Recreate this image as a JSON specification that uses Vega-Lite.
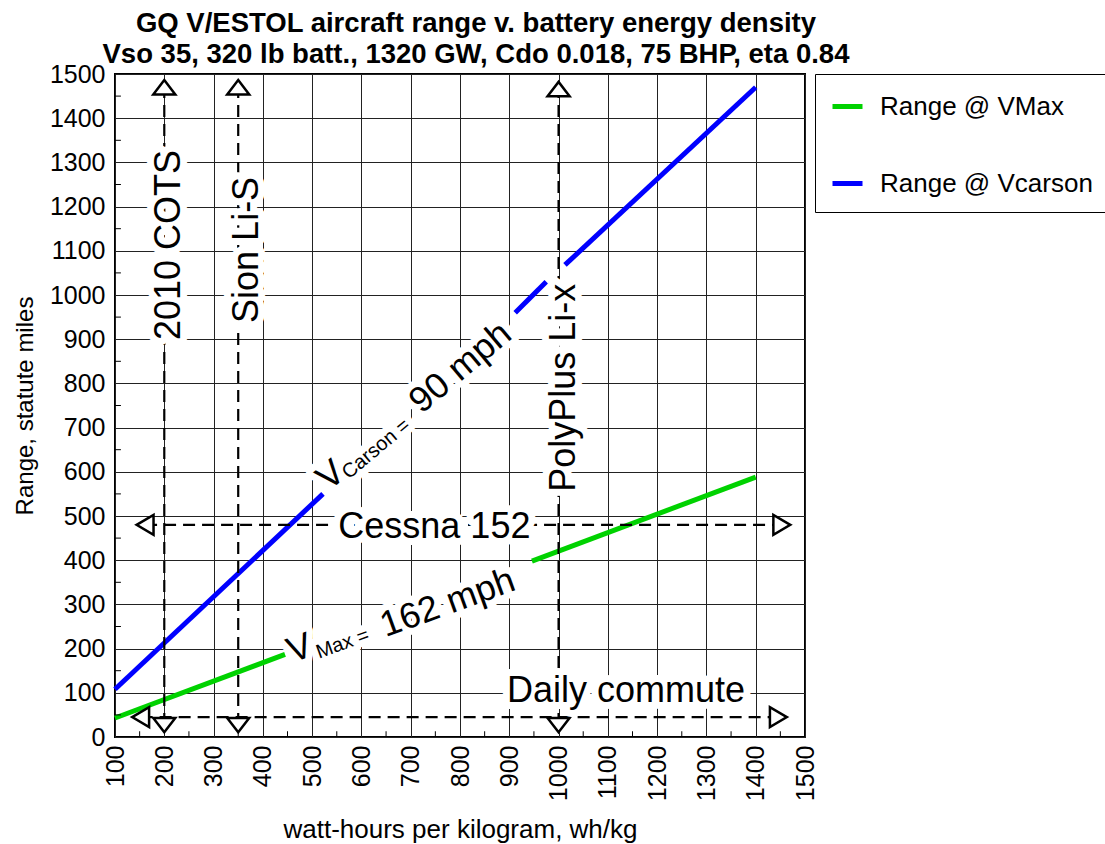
{
  "$schema": "https://vega.github.io/schema/vega-lite/v6.json",
  "autosize": "none",
  "padding": {"left": 115, "top": 74, "right": 300, "bottom": 107},
  "width": 690,
  "height": 663,
  "background": "white",
  "config": {
    "font": "Liberation Sans",
    "view": {"stroke": "black", "strokeWidth": 2},
    "axis": {"labelColor": "black", "titleColor": "black", "titleFontWeight": "normal"}
  },
  "title": {
    "text": ["GQ V/ESTOL aircraft range v. battery energy density", "Vso 35, 320 lb batt., 1320 GW, Cdo 0.018, 75 BHP, eta 0.84"],
    "fontSize": 27.5,
    "fontWeight": "bold",
    "lineHeight": 31,
    "anchor": "middle",
    "dx": 16,
    "offset": -6,
    "color": "black"
  },
  "datasets": {
    "lines": [
      {"x": 100, "y": 43, "series": "Range @ VMax", "seg": "m1"},
      {"x": 445, "y": 187, "series": "Range @ VMax", "seg": "m1"},
      {"x": 946, "y": 398, "series": "Range @ VMax", "seg": "m2"},
      {"x": 1400, "y": 588, "series": "Range @ VMax", "seg": "m2"},
      {"x": 100, "y": 108, "series": "Range @ Vcarson", "seg": "c1"},
      {"x": 522, "y": 550, "series": "Range @ Vcarson", "seg": "c1"},
      {"x": 912, "y": 960, "series": "Range @ Vcarson", "seg": "c2"},
      {"x": 975, "y": 1030, "series": "Range @ Vcarson", "seg": "c2"},
      {"x": 1013, "y": 1068, "series": "Range @ Vcarson", "seg": "c3"},
      {"x": 1400, "y": 1470, "series": "Range @ Vcarson", "seg": "c3"}
    ],
    "rules": [
      {"x": 200, "x2": 200, "y": 27, "y2": 1470},
      {"x": 350, "x2": 350, "y": 27, "y2": 1470},
      {"x": 1000, "x2": 1000, "y": 27, "y2": 1466},
      {"x": 152, "x2": 1446, "y": 45, "y2": 45},
      {"x": 161, "x2": 1453, "y": 480, "y2": 480}
    ],
    "arrows": [
      {"x": 200, "y": 1470, "dir": "up"},
      {"x": 350, "y": 1470, "dir": "up"},
      {"x": 1000, "y": 1466, "dir": "up"},
      {"x": 200, "y": 27, "dir": "down"},
      {"x": 350, "y": 27, "dir": "down"},
      {"x": 1000, "y": 27, "dir": "down"},
      {"x": 152, "y": 45, "dir": "left"},
      {"x": 1446, "y": 45, "dir": "right"},
      {"x": 161, "y": 480, "dir": "left"},
      {"x": 1453, "y": 480, "dir": "right"}
    ],
    "minorX": [
      {"v": 150}, {"v": 250}, {"v": 350}, {"v": 450}, {"v": 550}, {"v": 650}, {"v": 750},
      {"v": 850}, {"v": 950}, {"v": 1050}, {"v": 1150}, {"v": 1250}, {"v": 1350}, {"v": 1450}
    ],
    "minorY": [
      {"v": 50}, {"v": 150}, {"v": 250}, {"v": 350}, {"v": 450}, {"v": 550}, {"v": 650}, {"v": 750},
      {"v": 850}, {"v": 950}, {"v": 1050}, {"v": 1150}, {"v": 1250}, {"v": 1350}, {"v": 1450}
    ],
    "labels": [
      {"text": "2010 COTS", "x": 210, "y": 1113, "group": "vert"},
      {"text": "Sion Li-S", "x": 367, "y": 1102, "group": "vert"},
      {"text": "PolyPlus Li-x", "x": 1012, "y": 790, "group": "vert"},
      {"text": "Cessna 152", "x": 748, "y": 475, "group": "horiz"},
      {"text": "Daily commute", "x": 1137, "y": 103, "group": "horiz"},
      {"text": "V", "x": 538, "y": 592, "group": "carsonBig"},
      {"text": "90 mph", "x": 801, "y": 836, "group": "carsonBig"},
      {"text": "Carson =", "x": 630, "y": 652, "group": "carsonSmall"},
      {"text": "V", "x": 475, "y": 200, "group": "maxBig"},
      {"text": "162 mph", "x": 775, "y": 303, "group": "maxBig"},
      {"text": "Max =", "x": 562, "y": 211, "group": "maxSmall"}
    ]
  },
  "layer": [
    {
      "data": {"name": "lines"},
      "mark": {"type": "line", "strokeWidth": 5, "strokeCap": "butt"},
      "encoding": {
        "x": {
          "field": "x", "type": "quantitative",
          "scale": {"domain": [100, 1500], "nice": false, "zero": false},
          "axis": {
            "orient": "bottom",
            "values": [100, 200, 300, 400, 500, 600, 700, 800, 900, 1000, 1100, 1200, 1300, 1400, 1500],
            "format": "d",
            "grid": true, "gridColor": "#222", "gridWidth": 1, "gridOpacity": 1,
            "ticks": false, "tickSize": 0, "domain": false,
            "labelAngle": -90, "labelAlign": "right", "labelBaseline": "middle",
            "labelFontSize": 25, "labelPadding": 8, "labelFlush": false, "labelOverlap": false,
            "title": "watt-hours per kilogram, wh/kg", "titleFontSize": 26, "titlePadding": 16
          }
        },
        "y": {
          "field": "y", "type": "quantitative",
          "scale": {"domain": [0, 1500], "nice": false},
          "axis": {
            "orient": "left",
            "values": [0, 100, 200, 300, 400, 500, 600, 700, 800, 900, 1000, 1100, 1200, 1300, 1400, 1500],
            "format": "d",
            "grid": true, "gridColor": "#222", "gridWidth": 1, "gridOpacity": 1,
            "ticks": false, "tickSize": 0, "domain": false,
            "labelFontSize": 25, "labelPadding": 10, "labelFlush": false, "labelOverlap": false,
            "title": "Range, statute miles", "titleFontSize": 24, "titlePadding": 12
          }
        },
        "color": {
          "field": "series", "type": "nominal",
          "scale": {"domain": ["Range @ VMax", "Range @ Vcarson"], "range": ["#00d200", "#0000ff"]},
          "legend": {
            "title": null, "orient": "right", "offset": 10, "padding": 15,
            "strokeColor": "black", "fillColor": "white",
            "labelFontSize": 26, "labelColor": "black", "labelOffset": 15, "labelLimit": 400,
            "symbolType": "stroke", "symbolSize": 900, "symbolStrokeWidth": 5,
            "rowPadding": 46
          }
        },
        "detail": {"field": "seg", "type": "nominal"}
      }
    },
    {
      "data": {"name": "minorX"},
      "mark": {"type": "rule", "color": "black", "strokeWidth": 1},
      "encoding": {
        "x": {"field": "v", "type": "quantitative"},
        "y": {"datum": 0},
        "y2": {"datum": 13}
      }
    },
    {
      "data": {"name": "minorY"},
      "mark": {"type": "rule", "color": "black", "strokeWidth": 1},
      "encoding": {
        "y": {"field": "v", "type": "quantitative"},
        "x": {"datum": 100},
        "x2": {"datum": 112}
      }
    },
    {
      "data": {"name": "rules"},
      "mark": {"type": "rule", "color": "black", "strokeWidth": 2.2, "strokeDash": [12, 7]},
      "encoding": {
        "x": {"field": "x", "type": "quantitative"},
        "x2": {"field": "x2"},
        "y": {"field": "y", "type": "quantitative"},
        "y2": {"field": "y2"}
      }
    },
    {
      "data": {"name": "arrows"},
      "mark": {"type": "point", "filled": true, "fill": "white", "stroke": "black", "strokeWidth": 2.5, "size": 484, "opacity": 1},
      "encoding": {
        "x": {"field": "x", "type": "quantitative"},
        "y": {"field": "y", "type": "quantitative"},
        "shape": {
          "field": "dir", "type": "nominal",
          "scale": {
            "domain": ["up", "down", "left", "right"],
            "range": ["M0,-0.65L1,0.65L-1,0.65Z", "M0,0.65L1,-0.65L-1,-0.65Z", "M-0.77,0L0.77,-0.9L0.77,0.9Z", "M0.77,0L-0.77,-0.9L-0.77,0.9Z"]
          },
          "legend": null
        }
      }
    },
    {
      "data": {"name": "labels"},
      "transform": [{"filter": "datum.group == 'vert'"}],
      "layer": [
        {"mark": {"type": "text", "fontSize": 36, "angle": 270, "align": "center", "baseline": "middle", "fill": "white", "stroke": "white", "strokeWidth": 14, "strokeJoin": "round"}},
        {"mark": {"type": "text", "fontSize": 36, "angle": 270, "align": "center", "baseline": "middle", "fill": "black"}}
      ],
      "encoding": {
        "x": {"field": "x", "type": "quantitative"},
        "y": {"field": "y", "type": "quantitative"},
        "text": {"field": "text"}
      }
    },
    {
      "data": {"name": "labels"},
      "transform": [{"filter": "datum.group == 'horiz'"}],
      "layer": [
        {"mark": {"type": "text", "fontSize": 36, "align": "center", "baseline": "middle", "fill": "white", "stroke": "white", "strokeWidth": 14, "strokeJoin": "round"}},
        {"mark": {"type": "text", "fontSize": 36, "align": "center", "baseline": "middle", "fill": "black"}}
      ],
      "encoding": {
        "x": {"field": "x", "type": "quantitative"},
        "y": {"field": "y", "type": "quantitative"},
        "text": {"field": "text"}
      }
    },
    {
      "data": {"name": "labels"},
      "transform": [{"filter": "datum.group == 'carsonBig'"}],
      "layer": [
        {"mark": {"type": "text", "fontSize": 36, "angle": 320, "align": "center", "baseline": "middle", "fill": "white", "stroke": "white", "strokeWidth": 14, "strokeJoin": "round"}},
        {"mark": {"type": "text", "fontSize": 36, "angle": 320, "align": "center", "baseline": "middle", "fill": "black"}}
      ],
      "encoding": {
        "x": {"field": "x", "type": "quantitative"},
        "y": {"field": "y", "type": "quantitative"},
        "text": {"field": "text"}
      }
    },
    {
      "data": {"name": "labels"},
      "transform": [{"filter": "datum.group == 'carsonSmall'"}],
      "layer": [
        {"mark": {"type": "text", "fontSize": 20, "angle": 320, "align": "center", "baseline": "middle", "fill": "white", "stroke": "white", "strokeWidth": 14, "strokeJoin": "round"}},
        {"mark": {"type": "text", "fontSize": 20, "angle": 320, "align": "center", "baseline": "middle", "fill": "black"}}
      ],
      "encoding": {
        "x": {"field": "x", "type": "quantitative"},
        "y": {"field": "y", "type": "quantitative"},
        "text": {"field": "text"}
      }
    },
    {
      "data": {"name": "labels"},
      "transform": [{"filter": "datum.group == 'maxBig'"}],
      "layer": [
        {"mark": {"type": "text", "fontSize": 36, "angle": 340, "align": "center", "baseline": "middle", "fill": "white", "stroke": "white", "strokeWidth": 14, "strokeJoin": "round"}},
        {"mark": {"type": "text", "fontSize": 36, "angle": 340, "align": "center", "baseline": "middle", "fill": "black"}}
      ],
      "encoding": {
        "x": {"field": "x", "type": "quantitative"},
        "y": {"field": "y", "type": "quantitative"},
        "text": {"field": "text"}
      }
    },
    {
      "data": {"name": "labels"},
      "transform": [{"filter": "datum.group == 'maxSmall'"}],
      "layer": [
        {"mark": {"type": "text", "fontSize": 20, "angle": 340, "align": "center", "baseline": "middle", "fill": "white", "stroke": "white", "strokeWidth": 14, "strokeJoin": "round"}},
        {"mark": {"type": "text", "fontSize": 20, "angle": 340, "align": "center", "baseline": "middle", "fill": "black"}}
      ],
      "encoding": {
        "x": {"field": "x", "type": "quantitative"},
        "y": {"field": "y", "type": "quantitative"},
        "text": {"field": "text"}
      }
    }
  ]
}
